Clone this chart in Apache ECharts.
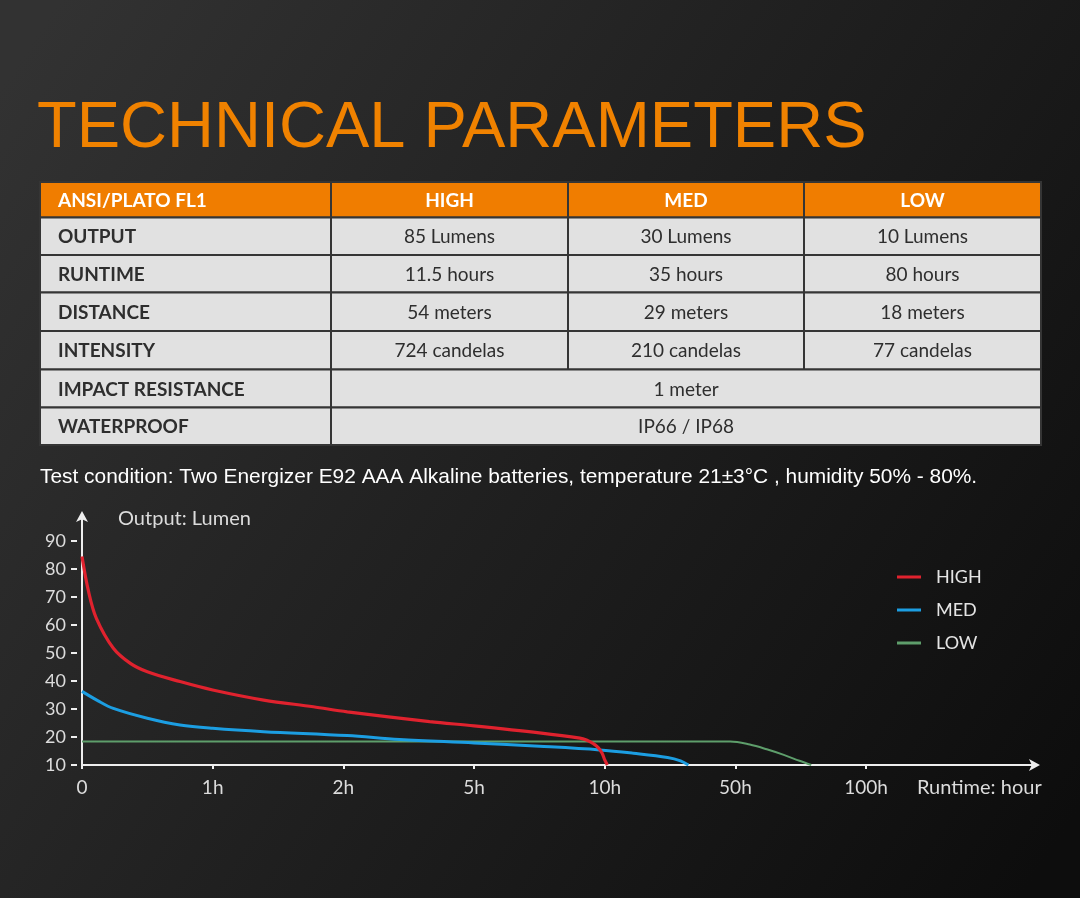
<!DOCTYPE html>
<html>
<head>
<meta charset="utf-8">
<script src="https://cdn.jsdelivr.net/npm/echarts@6/dist/echarts.min.js"></script>
<style>
html,body{margin:0;padding:0;background:#1a1a1a;}
#main{width:1080px;height:898px;}
</style>
</head>
<body>
<div id="main"></div>
<script>
// ---- Data ----
var titleText = 'TECHNICAL PARAMETERS';
var tableHeader = ['ANSI/PLATO FL1', 'HIGH', 'MED', 'LOW'];
var rowLabels = ['OUTPUT', 'RUNTIME', 'DISTANCE', 'INTENSITY', 'IMPACT RESISTANCE', 'WATERPROOF'];
var highValues = ['85 Lumens', '11.5 hours', '54 meters', '724 candelas'];
var medValues = ['30 Lumens', '35 hours', '29 meters', '210 candelas'];
var lowValues = ['10 Lumens', '80 hours', '18 meters', '77 candelas'];
var spanValues = ['1 meter', 'IP66 / IP68'];
var testCondition = 'Test condition: Two Energizer E92 AAA Alkaline batteries, temperature 21\u00b13\u00b0C , humidity 50% - 80%.';
var yAxisName = 'Output: Lumen';
var xAxisName = 'Runtime: hour';

// x axis: evenly spaced runtime ticks (position index -> label)
var tickLabels = ['0', '1h', '2h', '5h', '10h', '50h', '100h'];
var xTicks = [0, 1, 2, 3, 4, 5, 6];
var yTicks = [10, 20, 30, 40, 50, 60, 70, 80, 90];
var seriesNames = ['HIGH', 'MED', 'LOW'];

// curves: x in tick-position units, y in lumens
var highX = [0, 0.05, 0.11, 0.24, 0.37, 0.5, 0.75, 1.0, 1.39, 1.77, 2.03, 2.66, 3.0, 3.5, 3.81, 3.86, 3.91, 3.95, 3.98, 4.0, 4.02];
var highY = [84.5, 72, 62.4, 51.7, 46.3, 43.3, 39.8, 36.8, 33.2, 30.8, 29.0, 25.5, 24.0, 21.5, 19.6, 18.9, 17.7, 16.2, 14.2, 11.8, 10];
var medX = [0, 0.12, 0.24, 0.5, 0.75, 1.0, 1.39, 2.03, 2.43, 3.0, 3.5, 3.96, 4.22, 4.48, 4.58, 4.64];
var medY = [36.3, 33.0, 30.2, 26.7, 24.3, 23.1, 21.9, 20.5, 19.1, 17.9, 16.7, 15.4, 14.2, 12.7, 11.5, 10];
var lowX = [0, 1, 2, 3, 4, 4.96, 5.11, 5.24, 5.37, 5.49, 5.58];
var lowY = [18.4, 18.4, 18.4, 18.4, 18.4, 18.4, 17.3, 15.6, 13.6, 11.5, 10];

var colors = ['#e0222e', '#1c9ee2', '#5e9e6b'];
var lineWidths = [3.2, 3, 2];

function zip(xs, ys) { return xs.map(function (x, i) { return [x, ys[i]]; }); }
var seriesData = [zip(highX, highY), zip(medX, medY), zip(lowX, lowY)];

// ---- Table layout (graphic) ----
var colEdges = [40, 331, 568, 804, 1041];
var rowEdges = [182, 217.5, 255, 292.5, 331, 369.5, 407.5, 445];
var gfx = [];
var tableFont = 'Lato, "Noto Sans", sans-serif';
var chartFont = 'Lato, "Noto Sans", sans-serif';

gfx.push({ type: 'rect', shape: { x: 0, y: 0, width: 1080, height: 898 }, z: -10, silent: true,
  style: { fill: { type: 'linear', x: 0, y: 0.1, x2: 1, y2: 0.9, colorStops: [
    { offset: 0, color: '#323232' }, { offset: 0.45, color: '#212121' }, { offset: 1, color: '#0d0d0d' }] } } });

gfx.push({ type: 'text', left: 37, top: 97, style: { text: titleText, fill: '#f08200',
  font: 'normal 65px "Liberation Sans", Arial, sans-serif' } });

function cell(x0, x1, y0, y1, fill) {
  gfx.push({ type: 'rect', shape: { x: x0, y: y0, width: x1 - x0, height: y1 - y0 },
    style: { fill: fill, stroke: '#353535', lineWidth: 2 } });
}
function ctext(t, x, y, align, bold, color) {
  gfx.push({ type: 'text', x: x, y: y, style: { text: t, fill: color, align: align, verticalAlign: 'middle',
    font: (bold ? 'bold ' : 'normal ') + '19px ' + tableFont } });
}
// header
for (var c = 0; c < 4; c++) {
  cell(colEdges[c], colEdges[c + 1], rowEdges[0], rowEdges[1], '#f07d00');
  var hy = (rowEdges[0] + rowEdges[1]) / 2 + 1;
  if (c === 0) ctext(tableHeader[c], 58, hy, 'left', true, '#ffffff');
  else ctext(tableHeader[c], (colEdges[c] + colEdges[c + 1]) / 2, hy, 'center', true, '#ffffff');
}
var bodyFill = '#e1e1e1', bodyText = '#2e2e2e';
for (var r = 0; r < rowLabels.length; r++) {
  var y0 = rowEdges[r + 1], y1 = rowEdges[r + 2], my = (y0 + y1) / 2 + 1;
  cell(colEdges[0], colEdges[1], y0, y1, bodyFill);
  ctext(rowLabels[r], 58, my, 'left', true, bodyText);
  if (r < 4) {
    var vals = [highValues[r], medValues[r], lowValues[r]];
    for (var k = 0; k < 3; k++) {
      cell(colEdges[k + 1], colEdges[k + 2], y0, y1, bodyFill);
      ctext(vals[k], (colEdges[k + 1] + colEdges[k + 2]) / 2, my, 'center', false, bodyText);
    }
  } else {
    cell(colEdges[1], colEdges[4], y0, y1, bodyFill);
    ctext(spanValues[r - 4], (colEdges[1] + colEdges[4]) / 2, my, 'center', false, bodyText);
  }
}
gfx.push({ type: 'text', x: 40, y: 477, style: { text: testCondition, fill: '#ffffff', verticalAlign: 'middle',
  font: 'normal 20.9px "Liberation Sans", Arial, sans-serif' } });
gfx.push({ type: 'text', x: 917, y: 788, style: { text: xAxisName, fill: '#dcdcdc', verticalAlign: 'middle',
  font: 'normal 20px ' + chartFont } });
gfx.push({ type: 'text', x: 118, y: 519, style: { text: yAxisName, fill: '#dcdcdc', verticalAlign: 'middle',
  font: 'normal 20px ' + chartFont } });

var axisColor = '#eeeeee';

var chart = echarts.init(document.getElementById('main'));
chart.setOption({
  backgroundColor: 'transparent',
  animation: false,
  graphic: gfx,
  grid: { left: 82, right: 44, top: 515, bottom: 133, containLabel: false },
  legend: {
    orient: 'vertical', left: 892, top: 563, itemWidth: 24, itemHeight: 3, itemGap: 15, icon: 'rect',
    textStyle: { color: '#e4e4e4', fontSize: 18, fontFamily: chartFont, padding: [0, 0, 0, 10] },
    data: seriesNames
  },
  xAxis: {
    type: 'value', min: 0, max: 7.3,
    axisLine: { lineStyle: { color: axisColor, width: 2 }, symbol: ['none', 'arrow'], symbolSize: [9, 11], symbolOffset: [0, 4] },
    axisTick: { show: true, length: 4, inside: false, lineStyle: { color: axisColor, width: 2 }, customValues: xTicks },
    axisLabel: { color: '#dcdcdc', fontSize: 19, fontFamily: chartFont, margin: 13, customValues: xTicks,
      formatter: function (v) { return tickLabels[Math.round(v)] || ''; } },
    splitLine: { show: false }
  },
  yAxis: {
    type: 'value', min: 10, max: 99.3,
    axisLine: { lineStyle: { color: axisColor, width: 2 }, symbol: ['none', 'arrow'], symbolSize: [9, 11], symbolOffset: [0, 4] },
    axisTick: { show: true, length: 11, lineStyle: { color: axisColor, width: 2, type: [6, 5], dashOffset: 6 }, customValues: yTicks },
    axisLabel: { color: '#dcdcdc', fontSize: 18, fontFamily: chartFont, margin: 16, customValues: yTicks },
    splitLine: { show: false }
  },
  series: seriesNames.map(function (n, i) {
    return { name: n, type: 'line', data: seriesData[i], showSymbol: false, smooth: 0.35,
      color: colors[i], lineStyle: { color: colors[i], width: lineWidths[i] }, z: 3 - i };
  })
});
</script>
</body>
</html>
